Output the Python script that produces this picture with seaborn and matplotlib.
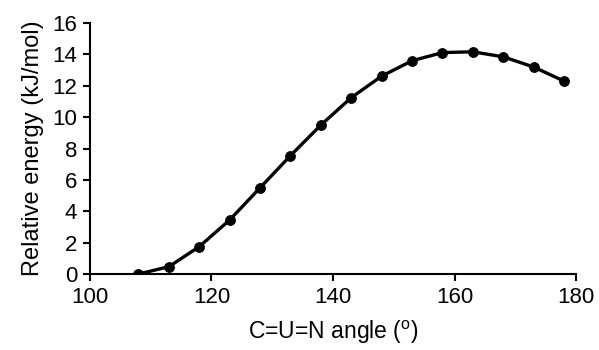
import matplotlib
matplotlib.use("Agg")
import matplotlib.pyplot as plt
import seaborn as sns
import pandas as pd

# data
angle = [108, 113, 118, 123, 128, 133, 138, 143, 148, 153, 158, 163, 168, 173, 178]
energy = [0.0, 0.47, 1.75, 3.45, 5.5, 7.55, 9.5, 11.25, 12.62, 13.6, 14.12, 14.17, 13.85, 13.2, 12.3]

df = pd.DataFrame({"angle": angle, "energy": energy})

sns.set_style("ticks")
plt.rcParams['font.family'] = ['Liberation Sans', 'DejaVu Sans']
plt.rcParams['mathtext.fontset'] = 'custom'
plt.rcParams['mathtext.rm'] = 'Liberation Sans'
plt.rcParams['text.color'] = 'black'
plt.rcParams['axes.labelcolor'] = 'black'

fig = plt.figure(figsize=(5.99, 3.5), dpi=100)
ax = fig.add_axes([0.150, 0.217, 0.812, 0.717])

sns.lineplot(x="angle", y="energy", data=df, ax=ax, color="black", linewidth=2.4,
             marker="o", markersize=7, markeredgecolor="black")

ax.set_xlim(100, 180)
ax.set_ylim(0, 16)
ax.set_xticks(range(100, 181, 20))
ax.set_yticks(range(0, 17, 2))
ax.tick_params(axis="both", labelsize=16, direction="out", length=5, width=1.5,
               colors="black", pad=4)
for side in ["left", "bottom"]:
    ax.spines[side].set_linewidth(1.5)
    ax.spines[side].set_color("black")
sns.despine(ax=ax)

ax.set_xlabel(r"C=U=N angle ($^{\mathrm{o}}$)", fontsize=16.5, labelpad=8)
ax.set_ylabel("Relative energy (kJ/mol)", fontsize=17, labelpad=6)

fig.savefig("out.png", dpi=100)
